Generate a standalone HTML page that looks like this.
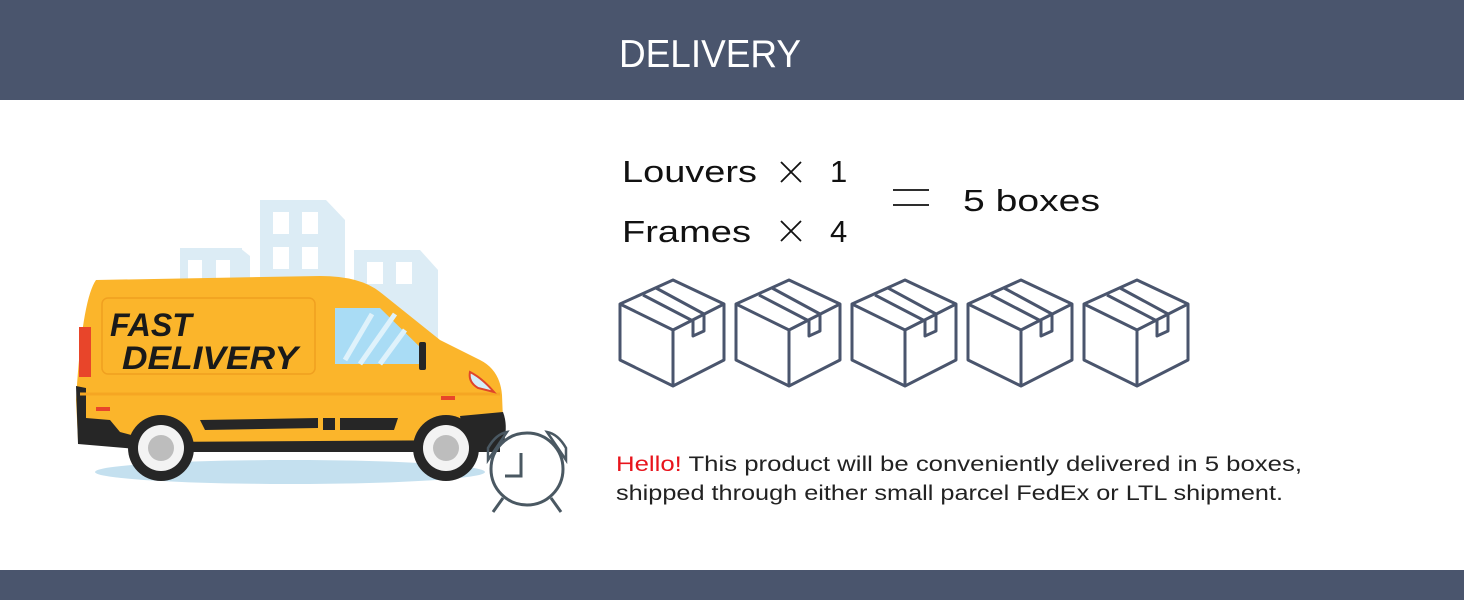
<!DOCTYPE html>
<html><head><meta charset="utf-8"><style>
html,body{margin:0;padding:0;background:#fff;}
svg{display:block;}
text{font-family:"Liberation Sans",sans-serif;}
</style></head><body>
<svg width="1464" height="600" viewBox="0 0 1464 600" xmlns="http://www.w3.org/2000/svg">
<rect x="0" y="0" width="1464" height="100" fill="#4a556d"/>
<rect x="0" y="570" width="1464" height="30" fill="#4a556d"/>
<text x="710" y="67" font-size="39" fill="#fff" text-anchor="middle" textLength="182" lengthAdjust="spacingAndGlyphs">DELIVERY</text>

<!-- buildings -->
<g fill="#dcecf5">
<rect x="180" y="248" width="62" height="40"/><polygon points="240,248 250,256 250,290 240,290"/>
<rect x="260" y="200" width="66" height="90"/><polygon points="326,200 345,220 345,290 326,290"/>
<rect x="354" y="250" width="66" height="110"/><polygon points="420,250 438,270 438,360 420,360"/>
</g>
<g fill="#fff">
<rect x="273" y="212" width="16" height="22"/><rect x="302" y="212" width="16" height="22"/>
<rect x="273" y="247" width="16" height="22"/><rect x="302" y="247" width="16" height="22"/>
<rect x="367" y="262" width="16" height="22"/><rect x="396" y="262" width="16" height="22"/>
<rect x="188" y="260" width="14" height="20"/><rect x="216" y="260" width="14" height="20"/>
</g>
<!-- shadow -->
<ellipse cx="290" cy="472" rx="195" ry="12" fill="#c4e0ef"/>
<!-- van body -->
<path d="M96,280 L320,276 Q360,276 380,292 L440,340 L480,360 Q500,370 502,395 L503,420 L500,442 L150,448 L78,440 L76,400 Q82,300 96,280 Z" fill="#fbb52b"/>
<path d="M76,386 L86,388 L86,418 L110,420 L120,432 L150,440 L148,450 L78,444 Z" fill="#262626"/>
<path d="M150,442 L500,440 L500,452 L150,452 Z" fill="#262626"/>
<path d="M460,416 L503,412 Q508,425 504,442 L465,446Z" fill="#262626"/>
<rect x="102" y="298" width="213" height="76" rx="6" fill="none" stroke="#f0a020" stroke-width="1.5"/>
<path d="M80,394 L500,394" stroke="#f5a623" stroke-width="3"/>
<path d="M335,308 L380,308 L425,352 L425,364 L335,364Z" fill="#a9dcf5"/>
<path d="M345,360 L372,314 M360,364 L395,314 M380,364 L405,330" stroke="#dff2fb" stroke-width="5"/>
<rect x="419" y="342" width="7" height="28" rx="2" fill="#262626"/>
<path d="M470,372 Q482,378 494,392 L478,388 Q468,382 470,372Z" fill="#d5eef8" stroke="#e0452a" stroke-width="2"/>
<rect x="79" y="327" width="12" height="50" fill="#e8452a"/>
<path d="M200,420 L318,418 L318,428 L205,430Z" fill="#262626"/>
<rect x="323" y="418" width="12" height="12" fill="#262626"/>
<path d="M340,418 L398,418 L394,430 L340,430Z" fill="#262626"/>
<rect x="96" y="407" width="14" height="4" fill="#e8452a"/>
<rect x="441" y="396" width="14" height="4" fill="#e8452a"/>
<text x="110" y="336" font-size="32" font-weight="bold" font-style="italic" fill="#1a1a1a">FAST</text>
<text x="122" y="369" font-size="32" font-weight="bold" font-style="italic" fill="#1a1a1a" textLength="176" lengthAdjust="spacingAndGlyphs">DELIVERY</text>
<!-- wheels -->
<g>
<circle cx="161" cy="448" r="33" fill="#262626"/><circle cx="161" cy="448" r="23" fill="#f3f3f3"/><circle cx="161" cy="448" r="13" fill="#bdbdbd"/>
<circle cx="446" cy="448" r="33" fill="#262626"/><circle cx="446" cy="448" r="23" fill="#f3f3f3"/><circle cx="446" cy="448" r="13" fill="#bdbdbd"/>
</g>
<!-- clock -->
<g fill="none" stroke="#4a5862" stroke-width="3">
<circle cx="527" cy="469" r="36"/>
<path d="M521,453 L521,476 L505,476"/>
<path d="M488,460 L488,448 Q496,434 507,432 Z" stroke-width="2.5"/>
<path d="M566,460 L566,448 Q558,434 547,432 Z" stroke-width="2.5"/>
<path d="M503,498 L493,512 M551,498 L561,512"/>
</g>

<!-- equation -->
<g fill="#111">
<text x="622" y="182" font-size="31" textLength="135" lengthAdjust="spacingAndGlyphs">Louvers</text>
<text x="622" y="242" font-size="31" textLength="129" lengthAdjust="spacingAndGlyphs">Frames</text>
<text x="830" y="182" font-size="31">1</text>
<text x="830" y="242" font-size="31">4</text>
<text x="963" y="211" font-size="31" textLength="137" lengthAdjust="spacingAndGlyphs">5 boxes</text>
</g>
<g stroke="#111" stroke-width="1.8">
<path d="M781,162 L801,182 M801,162 L781,182"/>
<path d="M781,221 L801,241 M801,221 L781,241"/>
<path d="M893,190 L929,190 M893,205 L929,205"/>
</g>

<!-- boxes -->
<defs>
<g id="bx" fill="none" stroke="#4a556d" stroke-width="3" stroke-linejoin="round">
<path d="M53,0 L104,24 L104,80 L53,106 L0,80 L0,24 Z"/>
<path d="M0,24 L53,50 L104,24 M53,50 L53,106"/>
<path d="M23,15 L73,41 L73,56 L84,51 L84,34 L36,8"/>
</g>
</defs>
<use href="#bx" x="620" y="280"/>
<use href="#bx" x="736" y="280"/>
<use href="#bx" x="852" y="280"/>
<use href="#bx" x="968" y="280"/>
<use href="#bx" x="1084" y="280"/>

<text x="616" y="471" font-size="21" fill="#222" textLength="686" lengthAdjust="spacingAndGlyphs"><tspan fill="#e8141c">Hello!</tspan> This product will be conveniently delivered in 5 boxes,</text>
<text x="616" y="500" font-size="21" fill="#222" textLength="667" lengthAdjust="spacingAndGlyphs">shipped through either small parcel FedEx or LTL shipment.</text>
</svg>
</body></html>
